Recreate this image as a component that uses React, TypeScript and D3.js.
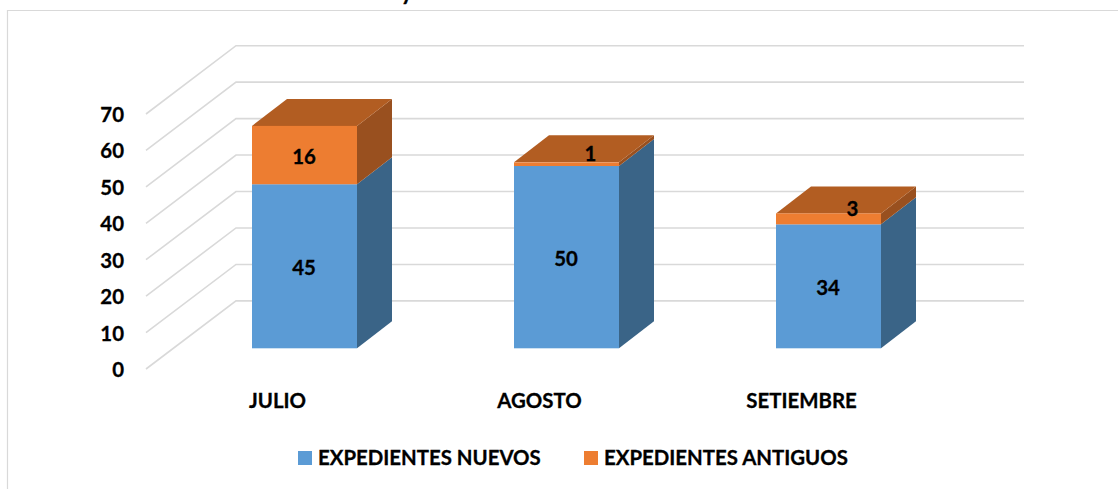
import React from "react";
import * as d3 from "d3";

const categories = ["JULIO", "AGOSTO", "SETIEMBRE"];
const nuevos = [45, 50, 34];
const antiguos = [16, 1, 3];
const yTicks = [0, 10, 20, 30, 40, 50, 60, 70];
const seriesNames = ["EXPEDIENTES NUEVOS", "EXPEDIENTES ANTIGUOS"];
const FONT = "Lato, Carlito, Calibri, sans-serif";

const W = 1118, H = 489;
const COL = { blue: "#5B9BD5", blueSide: "#3A6487", orange: "#ED7D31", orangeSide: "#99501F", top: "#B25D22" };
const FS = 20.4;
const textStyle = { fontSize: FS, fontWeight: 700, fill: "#000", stroke: "#000", strokeWidth: 0.3 } as const;

export default function App() {
  const yBack = d3.scaleLinear().domain([0, 70]).range([300.9, 45.7]);
  const yFront = d3.scaleLinear().domain([0, 70]).range([369, 114]);
  const yBar = d3.scaleLinear().domain([0, 70]).range([348.3, 93.1]);
  const xBand = d3.scaleBand<string>().domain(categories).range([252, 881]).paddingInner(157 / 262).paddingOuter(0);
  const dx = 35, dy = -27;
  const poly = (pts: [number, number][]) => d3.line()(pts) + "Z";

  return (
    <svg width={W} height={H} style={{ position: "absolute", left: 0, top: 0, fontFamily: FONT }}>
      <rect width={W} height={H} fill="#fff" />
      <path d="M7.5 489V10.5H1118" fill="none" stroke="#D9D9D9" strokeWidth={1.2} />
      <text x={401} y={0} {...textStyle} fontSize={22}>y</text>

      {yTicks.map((t) => (
        <g key={t}>
          <path d={d3.line()([[146, yFront(t)], [236, yBack(t)], [1024, yBack(t)]]) || ""} fill="none" stroke="#D9D9D9" strokeWidth={1.6} />
          <text x={124} y={yFront(t) + 8} textAnchor="end" {...textStyle}>{t}</text>
        </g>
      ))}

      {categories.map((c, i) => {
        const x0 = xBand(c)!;
        const x1 = x0 + xBand.bandwidth();
        const xc = (x0 + x1) / 2;
        const y0 = yBar(0), y1 = yBar(nuevos[i]), y2 = yBar(nuevos[i] + antiguos[i]);
        const small = antiguos[i] < 5;
        return (
          <g key={c}>
            <path d={poly([[x1, y0], [x1 + dx, y0 + dy], [x1 + dx, y1 + dy], [x1, y1]])} fill={COL.blueSide} />
            <path d={poly([[x1, y1], [x1 + dx, y1 + dy], [x1 + dx, y2 + dy], [x1, y2]])} fill={COL.orangeSide} />
            <path d={poly([[x0, y2], [x0 + dx, y2 + dy], [x1 + dx, y2 + dy], [x1, y2]])} fill={COL.top} />
            <rect x={x0} y={y1} width={x1 - x0} height={y0 - y1} fill={COL.blue} />
            <rect x={x0} y={y2} width={x1 - x0} height={y1 - y2} fill={COL.orange} />
            <text x={xc - 0.5} y={(y0 + y1) / 2 + 8.5} textAnchor="middle" {...textStyle}>{nuevos[i]}</text>
            <text x={xc + (small ? 24 : -0.5)} y={(y1 + y2) / 2 + (small ? -3 : 9)} textAnchor="middle" {...textStyle}>{antiguos[i]}</text>
            <text x={x0 + 25.5} y={408} textAnchor="middle" {...textStyle}>{c}</text>
          </g>
        );
      })}

      <rect x={298} y={451} width={14} height={14} fill={COL.blue} />
      <text x={318} y={464.5} {...textStyle}>{seriesNames[0]}</text>
      <rect x={584} y={451} width={14} height={14} fill={COL.orange} />
      <text x={604} y={464.5} {...textStyle}>{seriesNames[1]}</text>
    </svg>
  );
}
